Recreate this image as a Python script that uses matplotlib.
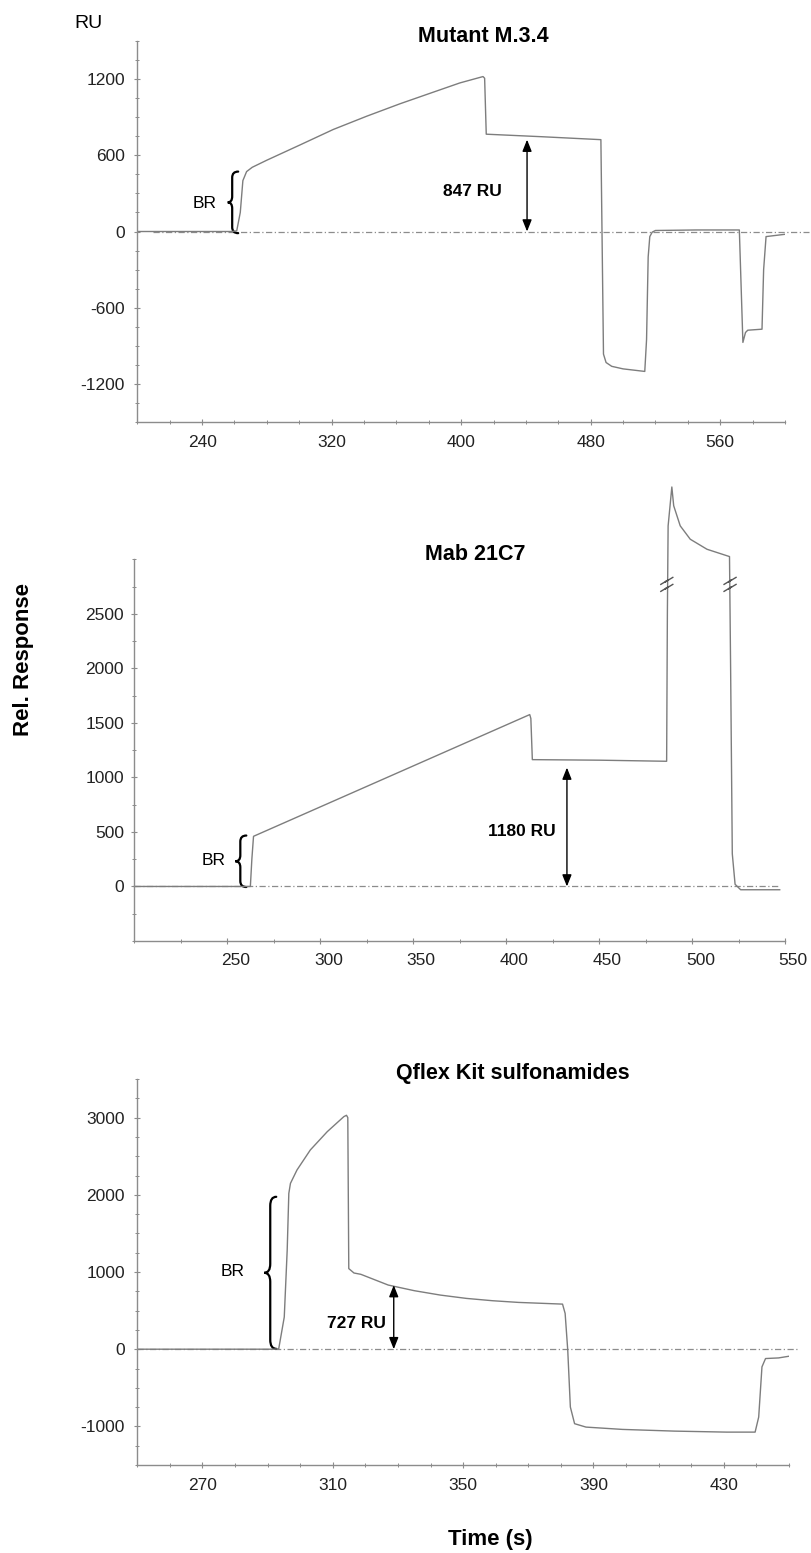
import numpy as np
import matplotlib
matplotlib.use("Agg")
import matplotlib.pyplot as plt
from matplotlib.path import Path
from matplotlib.patches import PathPatch
from matplotlib.ticker import MultipleLocator, FixedLocator
import matplotlib.transforms as mtransforms

plt.rcParams['font.family'] = ['Liberation Sans', 'DejaVu Sans']
plt.rcParams['axes.unicode_minus'] = False

# Mutant M.3.4 sensorgram
t_mut = [200, 258, 261.4, 263.6, 265.2, 267.5, 271, 279.9, 300.4, 321, 341.6, 362.2, 382.7, 399.2,
         413.5, 414.5, 415.5, 450, 486.3, 487.9, 489.5, 493, 500, 513.4, 514.5, 515.5, 516.5,
         518, 520, 545, 571.8, 574, 575.6, 577, 585.8, 586.8, 588.3, 600]
r_mut = [0, 0, 5, 150, 400, 471, 505, 560, 680, 802, 906, 1004, 1095, 1168,
         1218, 1205, 765, 745, 722, -964, -1030, -1060, -1080, -1100, -850, -200, -40,
         -5, 8, 12, 12, -872, -794, -776, -768, -300, -40, -22]

# Mab 21C7 sensorgram (values above 3000 drawn past the axis break)
t_mab = [200, 262.4, 263.2, 264.1, 412.6, 413.2, 414, 450, 486.2, 486.6, 487, 489, 490,
         493.5, 498.9, 507.9, 520, 520.6, 521.5, 523, 526, 547]
r_mab = [0, 0, 250, 460, 1576, 1540, 1163, 1158, 1148, 2500, 3306, 3663, 3491,
         3307, 3184, 3092, 3025, 2000, 300, 20, -30, -30]

# Qflex Kit sulfonamides sensorgram
t_qfx = [250, 291.8, 293.4, 295.1, 296, 296.5, 297, 299, 303.1, 308.3, 313.4, 314.2, 314.6,
         314.9, 316.5, 318.6, 327, 335, 343, 351, 359, 367, 375, 380.5, 381.3, 382.1, 382.9,
         384.2, 387.7, 398.9, 414.8, 430.8, 439.6, 440.7, 441.7, 442.8, 446.8, 450]
r_qfx = [0, 0, 5, 416, 1282, 2018, 2148, 2321, 2581, 2818, 3013, 3030, 3000,
         1044, 987, 970, 831, 758, 701, 658, 628, 606, 593, 584, 463, -13, -749,
         -965, -1009, -1039, -1061, -1074, -1074, -879, -229, -121, -113, -91]

CURVE = '#7d7d7d'
AXC = '#8c8c8c'

fig = plt.figure(figsize=(8.12, 15.53), dpi=100)


def px_axes(left, top, right, bottom):
    W, H = 812.0, 1553.0
    return fig.add_axes([left / W, 1 - bottom / H, (right - left) / W, (bottom - top) / H])


def style(ax, xlim, ylim, xmaj, xmin, ymaj, ymin, pad_y=6.5):
    ax.set_xlim(*xlim)
    ax.set_ylim(*ylim)
    ax.xaxis.set_major_locator(FixedLocator(xmaj))
    ax.xaxis.set_minor_locator(MultipleLocator(xmin))
    ax.yaxis.set_major_locator(FixedLocator(ymaj))
    ax.yaxis.set_minor_locator(MultipleLocator(ymin))
    for s in ['top', 'right']:
        ax.spines[s].set_visible(False)
    for s in ['left', 'bottom']:
        ax.spines[s].set_color(AXC)
        ax.spines[s].set_linewidth(1.0)
    ax.tick_params(which='major', direction='inout', length=5, width=0.8, color=AXC,
                   labelsize=12.5, labelcolor='#222222')
    ax.tick_params(which='minor', direction='inout', length=3, width=0.7, color=AXC)
    ax.tick_params(axis='y', which='major', pad=pad_y)
    ax.tick_params(axis='x', which='major', pad=6.5)


def brace(ax, x, y0, y1, w_px=6, c_px=5, h_px=7, lw=1.6):
    sx = ax.bbox.width / np.diff(ax.get_xlim())[0]
    sy = ax.bbox.height / np.diff(ax.get_ylim())[0]
    w, c, h = w_px / sx, c_px / sx, h_px / sy
    ym = (y0 + y1) / 2
    verts = [(x + w, y1), (x, y1), (x, y1 - h), (x, ym + h), (x, ym), (x - c, ym),
             (x, ym), (x, ym - h), (x, y0 + h), (x, y0), (x + w, y0)]
    codes = [Path.MOVETO, Path.CURVE3, Path.CURVE3, Path.LINETO, Path.CURVE3, Path.CURVE3,
             Path.CURVE3, Path.CURVE3, Path.LINETO, Path.CURVE3, Path.CURVE3]
    ax.add_patch(PathPatch(Path(verts, codes), fill=False, lw=lw, color='black',
                           clip_on=False, capstyle='round'))


def arrow(ax, x, y_top):
    ax.annotate('', xy=(x, y_top), xytext=(x, 0),
                arrowprops=dict(arrowstyle='<|-|>,head_length=0.7,head_width=0.28',
                                color='black', lw=1.0, shrinkA=0, shrinkB=0))


def zero_line(ax, x0, x1):
    ax.plot([x0, x1], [0, 0], color=AXC, lw=0.9, ls=(0, (5, 2, 1, 2)), clip_on=False, zorder=1)


# ---- top panel
ax1 = px_axes(137.3, 40.7, 785, 422.3)
style(ax1, (200, 600), (-1500, 1500), [240, 320, 400, 480, 560], 20,
      [-1200, -600, 0, 600, 1200], 150)
zero_line(ax1, 210, 615)
ax1.plot(t_mut, r_mut, color=CURVE, lw=1.0, zorder=2)
brace(ax1, 258.6, -13, 471, w_px=6, c_px=4.5, h_px=6)
ax1.text(241.3, 217, 'BR', ha='center', va='center', fontsize=12.5)
arrow(ax1, 440.7, 722)
ax1.text(407.2, 312, '847 RU', ha='center', va='center', fontsize=12.5, fontweight='bold')

# ---- middle panel
ax2 = px_axes(134.3, 559.3, 785.3, 941)
style(ax2, (200, 550), (-500, 3000), [250, 300, 350, 400, 450, 500, 550], 25,
      [0, 500, 1000, 1500, 2000, 2500], 250, pad_y=5)
zero_line(ax2, 200, 547)
ax2.plot(t_mab, r_mab, color=CURVE, lw=1.0, zorder=2, clip_on=False)
# axis-break marks on the two tall flanks
sx2 = ax2.bbox.width / 350.0
sy2 = ax2.bbox.height / 3500.0
for xb in (486.3, 520.3):
    for dy in (-3.5, 3.5):
        px = np.array([-6, 1.5, -1.5, 6]) / sx2
        py = (np.array([-3.5, 1, -1, 3.5]) + dy) / sy2
        ax2.plot(xb + px, 2770 + py, color='#555555', lw=1.0, clip_on=False, zorder=3)
brace(ax2, 257, -5, 467, w_px=6, c_px=5, h_px=6)
ax2.text(242.6, 237, 'BR', ha='center', va='center', fontsize=12.5)
arrow(ax2, 432.6, 1090)
ax2.text(408.5, 506, '1180 RU', ha='center', va='center', fontsize=12.5, fontweight='bold')
shift = mtransforms.ScaledTranslation(8 / 100, 0, fig.dpi_scale_trans)
for lab in ax2.get_xticklabels():
    lab.set_transform(lab.get_transform() + shift)

# ---- bottom panel
ax3 = px_axes(137.3, 1079, 789, 1465)
style(ax3, (250, 450), (-1500, 3500), [270, 310, 350, 390, 430], 10,
      [-1000, 0, 1000, 2000, 3000], 250)
zero_line(ax3, 250, 452.5)
ax3.plot(t_qfx, r_qfx, color=CURVE, lw=1.0, zorder=2)
brace(ax3, 290.8, 5, 1974, w_px=6, c_px=6, h_px=9)
ax3.text(279.4, 1000, 'BR', ha='center', va='center', fontsize=12.5)
arrow(ax3, 328.7, 830)
ax3.text(317.4, 330, '727 RU', ha='center', va='center', fontsize=12.5, fontweight='bold')

# ---- figure texts
def ftext(x, y, s, **kw):
    fig.text(x / 812.0, 1 - y / 1553.0, s, ha='center', va='center', **kw)

ftext(483.5, 36, 'Mutant M.3.4', fontsize=15.5, fontweight='bold')
ftext(475, 555, 'Mab 21C7', fontsize=15.5, fontweight='bold')
ftext(512.8, 1073, 'Qflex Kit sulfonamides', fontsize=15.5, fontweight='bold')
ftext(88, 24, 'RU', fontsize=14)
ftext(23.3, 660, 'Rel. Response', fontsize=16, fontweight='bold', rotation=90)
ftext(490, 1540, 'Time (s)', fontsize=16, fontweight='bold')

fig.savefig('out.png', dpi=100, facecolor='white')
